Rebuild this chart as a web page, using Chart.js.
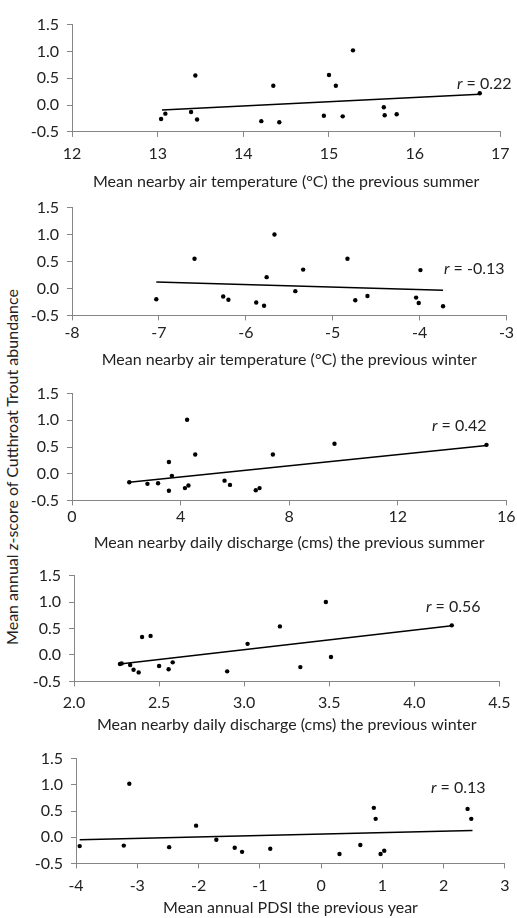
<!DOCTYPE html>
<html>
<head>
<meta charset="utf-8">
<script src="https://cdn.jsdelivr.net/npm/chart.js@4.4.0/dist/chart.umd.min.js"></script>
<style>
  body { margin: 0; background: #fff; width: 517px; height: 918px; position: relative; overflow: hidden; font-family: Lato, sans-serif; color: #222; }
  canvas { position: absolute; left: 0; }
  .rlabel { position: absolute; font-size: 16px; white-space: nowrap; transform: translateY(-50%); }
  #ytitle { position: absolute; left: 11px; top: 467px; font-size: 16px; white-space: nowrap; transform: translate(-50%, -50%) rotate(-90deg); }
</style>
</head>
<body>
<div id="ytitle">Mean annual <i>z</i>-score of Cutthroat Trout abundance</div>
<canvas id="c1" width="517"></canvas>
<canvas id="c2" width="517"></canvas>
<canvas id="c3" width="517"></canvas>
<canvas id="c4" width="517"></canvas>
<canvas id="c5" width="517"></canvas>
<div class="rlabel" style="left:457px;top:82px"><i>r</i> = 0.22</div>
<div class="rlabel" style="left:444px;top:267px"><i>r</i> = -0.13</div>
<div class="rlabel" style="left:432px;top:424px"><i>r</i> = 0.42</div>
<div class="rlabel" style="left:426px;top:605px"><i>r</i> = 0.56</div>
<div class="rlabel" style="left:431px;top:786px"><i>r</i> = 0.13</div>
<script>
// abundance z-score (same y axis in every panel)
const yTicks = [-0.5, 0, 0.5, 1.0, 1.5];

// panel 1: summer air temperature
const summerTempX = [13.04, 13.09, 13.39, 13.44, 13.46, 14.21, 14.35, 14.42, 14.94, 15.00, 15.08, 15.16, 15.28, 15.64, 15.65, 15.79, 16.76];
const summerTempY = [-0.26, -0.16, -0.13, 0.55, -0.27, -0.30, 0.36, -0.32, -0.20, 0.56, 0.36, -0.21, 1.02, -0.04, -0.19, -0.17, 0.22];
const summerTempTrendX = [13.05, 16.76];
const summerTempTrendY = [-0.09, 0.20];

// panel 2: winter air temperature
const winterTempX = [-7.03, -6.59, -6.26, -6.20, -5.88, -5.79, -5.76, -5.67, -5.43, -5.34, -4.83, -4.74, -4.60, -4.04, -4.01, -3.99, -3.73];
const winterTempY = [-0.20, 0.55, -0.15, -0.21, -0.26, -0.32, 0.21, 1.00, -0.05, 0.35, 0.55, -0.22, -0.14, -0.17, -0.27, 0.34, -0.33];
const winterTempTrendX = [-7.03, -3.73];
const winterTempTrendY = [0.12, -0.035];

// panel 3: summer discharge
const summerFlowX = [2.11, 2.78, 3.17, 3.57, 3.57, 3.68, 4.16, 4.24, 4.29, 4.54, 5.62, 5.82, 6.77, 6.91, 7.40, 9.67, 15.27];
const summerFlowY = [-0.16, -0.19, -0.18, 0.22, -0.32, -0.04, -0.27, 1.01, -0.22, 0.36, -0.13, -0.21, -0.31, -0.27, 0.36, 0.56, 0.54];
const summerFlowTrendX = [2.11, 15.27];
const summerFlowTrendY = [-0.16, 0.53];

// panel 4: winter discharge
const winterFlowX = [2.27, 2.28, 2.33, 2.35, 2.38, 2.40, 2.45, 2.50, 2.556, 2.58, 2.90, 3.02, 3.21, 3.33, 3.48, 3.51, 4.22];
const winterFlowY = [-0.17, -0.16, -0.19, -0.28, -0.33, 0.34, 0.36, -0.21, -0.27, -0.14, -0.31, 0.21, 0.54, -0.23, 1.00, -0.04, 0.56];
const winterFlowTrendX = [2.27, 4.22];
const winterFlowTrendY = [-0.17, 0.55];

// panel 5: PDSI
const pdsiX = [-3.94, -3.22, -3.13, -2.48, -2.04, -1.71, -1.41, -1.29, -0.83, 0.30, 0.64, 0.86, 0.89, 0.97, 1.03, 2.39, 2.45];
const pdsiY = [-0.17, -0.16, 1.02, -0.19, 0.22, -0.05, -0.20, -0.28, -0.22, -0.32, -0.15, 0.56, 0.35, -0.32, -0.26, 0.54, 0.35];
const pdsiTrendX = [-3.94, 2.47];
const pdsiTrendY = [-0.05, 0.13];

const FONT = 'Lato, sans-serif';
const FS = 16;
const TXT = '#222';
const AXIS = '#868686';

function pairs(xs, ys) {
  return xs.map((x, i) => ({ x: x, y: ys[i] }));
}

// box: where the 1.5 tick, the x axis, the tick labels and the title sit (page px)
function drawPanel(id, box, xs, ys, tx, ty, xMin, xMax, xStep, xDec, xTitle) {
  const padTop = 12;
  const lh = FS * 1.2;
  const xHeight = box.titleC - box.axisY + lh / 2;
  const canvas = document.getElementById(id);
  canvas.style.top = (box.yTop - padTop) + 'px';
  canvas.height = padTop + (box.axisY - box.yTop) + xHeight;

  new Chart(canvas.getContext('2d'), {
    type: 'scatter',
    data: {
      datasets: [
        {
          data: pairs(xs, ys),
          backgroundColor: '#000',
          borderColor: '#000',
          pointRadius: 2.2,
          pointBorderWidth: 0,
        },
        {
          type: 'line',
          data: pairs(tx, ty),
          borderColor: '#000',
          borderWidth: 1.5,
          pointRadius: 0,
          fill: false,
        },
      ],
    },
    options: {
      responsive: false,
      animation: false,
      events: [],
      layout: { padding: { top: padTop, right: 517 - box.right, bottom: 0, left: 0 } },
      plugins: { legend: { display: false }, tooltip: { enabled: false } },
      scales: {
        x: {
          type: 'linear',
          min: xMin,
          max: xMax,
          afterBuildTicks: (s) => {
            const t = [];
            for (let v = xMin; v <= xMax + 1e-9; v += xStep) t.push({ value: +v.toFixed(3) });
            s.ticks = t;
          },
          afterFit: (s) => { s.height = xHeight; },
          grid: { drawOnChartArea: false, drawTicks: true, tickLength: 5, color: AXIS },
          border: { color: AXIS, width: 1 },
          ticks: {
            color: TXT,
            font: { family: FONT, size: FS },
            padding: box.tickC - box.axisY - 5 - lh / 2,
            maxRotation: 0,
            callback: (v) => v.toFixed(xDec),
          },
          title: {
            display: true,
            text: xTitle,
            color: TXT,
            font: { family: FONT, size: FS },
            padding: { top: 0, bottom: 0 },
          },
        },
        y: {
          min: -0.5,
          max: 1.5,
          afterBuildTicks: (s) => { s.ticks = yTicks.map(v => ({ value: v })); },
          afterFit: (s) => { s.width = box.left; },
          grid: { drawOnChartArea: false, drawTicks: true, tickLength: 5, color: AXIS },
          border: { color: AXIS, width: 1 },
          ticks: {
            color: TXT,
            font: { family: FONT, size: FS },
            padding: 8,
            callback: (v) => v.toFixed(1),
          },
        },
      },
    },
  });
}

drawPanel('c1', { yTop: 19, axisY: 132, tickC: 154, titleC: 181.5, left: 72, right: 509 },
  summerTempX, summerTempY, summerTempTrendX, summerTempTrendY, 12, 17, 1, 0,
  'Mean nearby air temperature (°C) the previous summer');
drawPanel('c2', { yTop: 202, axisY: 316, tickC: 333.5, titleC: 360, left: 72, right: 509 },
  winterTempX, winterTempY, winterTempTrendX, winterTempTrendY, -8, -3, 1, 0,
  'Mean nearby air temperature (°C) the previous winter');
drawPanel('c3', { yTop: 388, axisY: 501, tickC: 517, titleC: 543, left: 72, right: 509 },
  summerFlowX, summerFlowY, summerFlowTrendX, summerFlowTrendY, 0, 16, 4, 0,
  'Mean nearby daily discharge (cms) the previous summer');
drawPanel('c4', { yTop: 570, axisY: 682, tickC: 703, titleC: 725, left: 74, right: 509 },
  winterFlowX, winterFlowY, winterFlowTrendX, winterFlowTrendY, 2.0, 4.5, 0.5, 1,
  'Mean nearby daily discharge (cms) the previous winter');
drawPanel('c5', { yTop: 753, axisY: 864, tickC: 886, titleC: 908, left: 76, right: 512 },
  pdsiX, pdsiY, pdsiTrendX, pdsiTrendY, -4, 3, 1, 0,
  'Mean annual PDSI the previous year');
</script>
</body>
</html>
